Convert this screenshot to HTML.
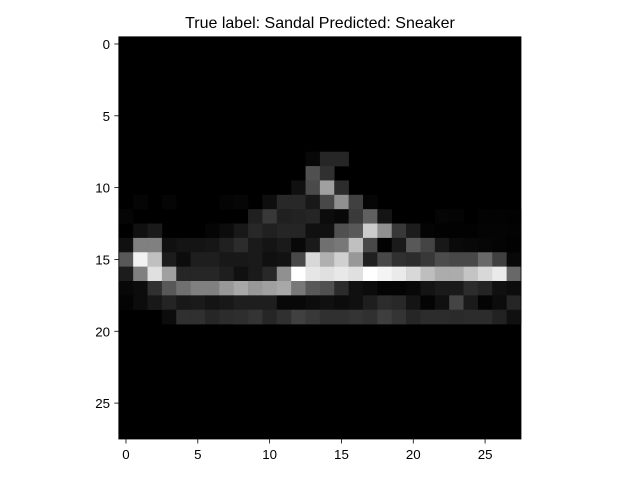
<!DOCTYPE html>
<html><head><meta charset="utf-8"><style>
body{margin:0;background:#fff;}
svg{display:block;font-family:"Liberation Sans","DejaVu Sans",sans-serif;}
</style></head><body>
<svg id="chart" width="640" height="480" viewBox="0 0 640 480">
<rect width="640" height="480" fill="#fff"/>
<text x="320" y="28" text-anchor="middle" font-size="16" fill="#000">True label: Sandal Predicted: Sneaker</text>
<g id="img"></g>
<rect x="118.8" y="36.8" width="402.2" height="402.2" fill="none" stroke="#000" stroke-width="0.8"/>
<g id="xt"></g>
<g id="yt"></g>
</svg>
<script>
const nRows = 28;
const xTicks = [0,5,10,15,20,25];
const yTicks = [0,5,10,15,20,25];
// left half: columns 0-13
const leftRows = {
 8:[0,0,0,0,0,0,0,0,0,0,0,0,0,0x08],
 9:[0,0,0,0,0,0,0,0,0,0,0,0,0,0x50],
 10:[0,0,0,0,0,0,0,0,0,0,0,0,0x10,0x4a],
 11:[0,5,0,5,0,0,0,4,6,0,0x0e,0x28,0x28,0x18],
 12:[5,0,0,0,0,0,0,0,0,0x20,0x38,0x20,0x22,0x25],
 13:[0,0x10,0x1a,0,0,0,5,0x0c,0x18,0x28,0x20,0x25,0x25,0x10],
 14:[0x10,0x80,0x80,0x10,0x14,0x14,0x16,0x20,0x2c,0x1a,0x14,0x1a,0x08,0x1a],
 15:[0x58,0xf2,0xc0,0x1c,0x0c,0x1e,0x1e,0x18,0x18,0x1a,0x10,0x12,0x48,0xd8],
 16:[0x1c,0x80,0xe0,0xa0,0x26,0x26,0x26,0x1e,0x10,0x1a,0x28,0x90,0xff,0xe6],
 17:[8,0x0c,0x30,0x58,0x70,0x80,0x80,0x98,0xa8,0x98,0xa0,0xa8,0x78,0x58],
 18:[4,0x0c,0x18,0x24,0x18,0x1a,0x14,0x18,0x1e,0x1e,0x1e,8,8,0x0c],
 19:[0,0,0,0x0c,0x30,0x30,0x26,0x2c,0x2e,0x34,0x26,0x30,0x40,0x38]
};
// right half: columns 14-27
const rightRows = {
 8:[0x26,0x26,0,0,0,0,0,0,0,0,0,0,0,0],
 9:[0x30,0,0,0,0,0,0,0,0,0,0,0,0,0],
 10:[0xa0,0x2c,0,0,0,0,0,0,0,0,0,0,0,0],
 11:[0x48,0x90,0x40,0x06,0,0,0,0,0,0,0,0,0,0],
 12:[0x0c,0x08,0x3a,0x60,0x14,0,0,0,5,4,0,3,3,2],
 13:[0x10,0x50,0x58,0xcc,0x90,0x38,0x1c,4,2,2,2,4,4,3],
 14:[0x70,0x78,0xc0,0x48,2,0x1a,0x58,0x44,0x18,0x0a,8,6,4,2],
 15:[0xb0,0xd0,0x98,0x20,0x48,0x30,0x2c,0x38,0x4c,0x48,0x48,0x68,0x40,0x08],
 16:[0xe0,0xe8,0xe0,0xff,0xf4,0xea,0xd8,0xbe,0xac,0xac,0xc4,0xd8,0xea,0x68],
 17:[0x50,0x2c,0x10,0x0c,4,4,8,0x14,0x1a,0x1a,0x2c,0x24,0x10,0x0c],
 18:[0x10,0x0c,0x10,0x1e,0x2c,0x28,0x14,4,0x10,0x44,0x1a,4,0x0c,0x26],
 19:[0x30,0x30,0x34,0x30,0x3e,0x34,0x26,0x2c,0x2c,0x2a,0x2c,0x2c,0x22,0x10]
};
const grid = [];
for(let r=0;r<nRows;r++){
 const L=leftRows[r]||new Array(14).fill(0);
 const R=rightRows[r]||new Array(14).fill(0);
 grid.push(L.concat(R));
}
const X0=118.8, Y0=36.8, CELL=402.2/28;
function xs(v){return X0+(v+0.5)*CELL;}
function ys(v){return Y0+(v+0.5)*CELL;}
const NS="http://www.w3.org/2000/svg";
const g=document.getElementById('img');
const bg=document.createElementNS(NS,'rect');
bg.setAttribute('x',X0);bg.setAttribute('y',Y0);bg.setAttribute('width',402.2);bg.setAttribute('height',402.2);bg.setAttribute('fill','#000');


g.appendChild(bg);
for(let r=0;r<nRows;r++)for(let c=0;c<28;c++){
 const v=grid[r][c]; if(!v) continue;
 const el=document.createElementNS(NS,'rect');
 el.setAttribute('x',xs(c)-CELL/2);el.setAttribute('y',ys(r)-CELL/2);
 el.setAttribute('width',CELL+0.3);el.setAttribute('height',CELL+0.3);
 el.setAttribute('fill',`rgb(${v},${v},${v})`);
 
 
 g.appendChild(el);
}
const xt=document.getElementById('xt');
xTicks.forEach(t=>{
 const l=document.createElementNS(NS,'line');
 l.setAttribute('x1',xs(t));l.setAttribute('x2',xs(t));l.setAttribute('y1',439);l.setAttribute('y2',443.5);l.setAttribute('stroke','#000');l.setAttribute('stroke-width','0.8');
 
 
 xt.appendChild(l);
 const tx=document.createElementNS(NS,'text');
 tx.setAttribute('x',xs(t));tx.setAttribute('y',459);tx.setAttribute('text-anchor','middle');tx.setAttribute('font-size','13.3');
 tx.textContent=t;
 
 
 xt.appendChild(tx);
});
const yt=document.getElementById('yt');
yTicks.forEach(t=>{
 const l=document.createElementNS(NS,'line');
 l.setAttribute('x1',114.3);l.setAttribute('x2',118.8);l.setAttribute('y1',ys(t));l.setAttribute('y2',ys(t));l.setAttribute('stroke','#000');l.setAttribute('stroke-width','0.8');
 
 
 yt.appendChild(l);
 const tx=document.createElementNS(NS,'text');
 tx.setAttribute('x',110);tx.setAttribute('y',ys(t)+5);tx.setAttribute('text-anchor','end');tx.setAttribute('font-size','13.3');
 tx.textContent=t;
 
 
 yt.appendChild(tx);
});
</script>
</body></html>
